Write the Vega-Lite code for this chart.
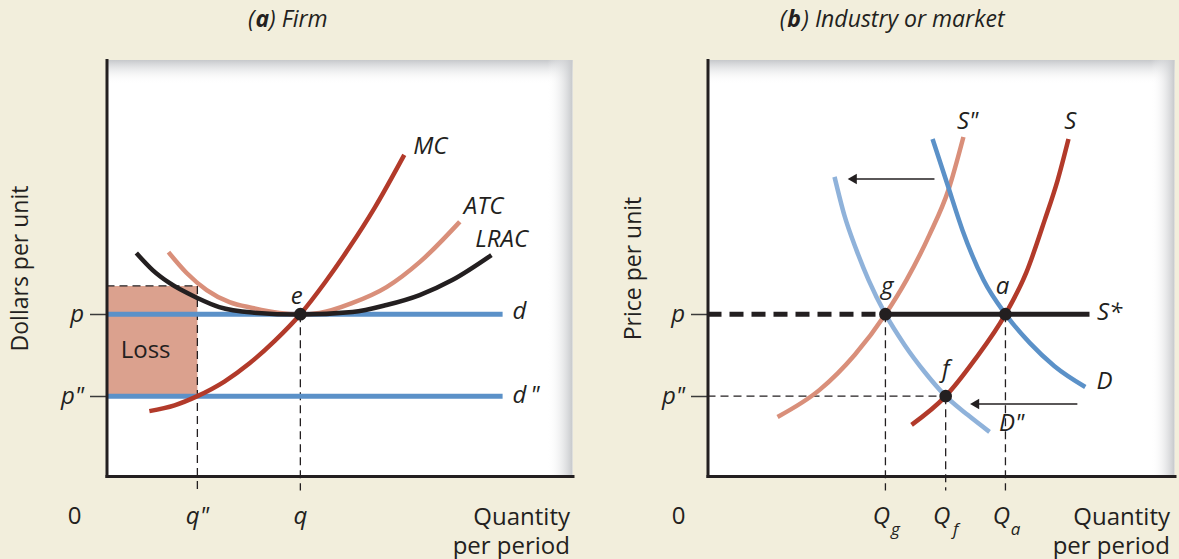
{
  "$schema": "https://vega.github.io/schema/vega-lite/v6.json",
  "background": "#f2eedc",
  "padding": {"left": 9.5, "top": 9, "right": 4, "bottom": 8},
  "autosize": {"type": "pad"},
  "config": {"view": {"stroke": null, "fill": "#ffffff"}, "font": "Open Sans"},
  "spacing": 135,
  "bounds": "flush",
  "resolve": {"scale": {"x": "independent", "y": "independent", "color": "independent"}},
  "datasets": {
    "one": [{}],
    "firmCurves": [
      {"curve": "ATC", "x": 1.33, "y": 5.38}, {"curve": "ATC", "x": 1.72, "y": 4.88}, {"curve": "ATC", "x": 2.15, "y": 4.47},
      {"curve": "ATC", "x": 2.64, "y": 4.18}, {"curve": "ATC", "x": 3.13, "y": 4.04}, {"curve": "ATC", "x": 3.71, "y": 3.92},
      {"curve": "ATC", "x": 4.16, "y": 3.89}, {"curve": "ATC", "x": 4.57, "y": 3.92}, {"curve": "ATC", "x": 5.28, "y": 4.16},
      {"curve": "ATC", "x": 6.01, "y": 4.54}, {"curve": "ATC", "x": 6.72, "y": 5.14}, {"curve": "ATC", "x": 7.58, "y": 6.11},
      {"curve": "LRAC", "x": 0.64, "y": 5.36}, {"curve": "LRAC", "x": 0.99, "y": 4.95}, {"curve": "LRAC", "x": 1.35, "y": 4.64},
      {"curve": "LRAC", "x": 1.95, "y": 4.28}, {"curve": "LRAC", "x": 2.42, "y": 4.06}, {"curve": "LRAC", "x": 3.13, "y": 3.93},
      {"curve": "LRAC", "x": 4.16, "y": 3.88}, {"curve": "LRAC", "x": 5.28, "y": 3.94}, {"curve": "LRAC", "x": 6.01, "y": 4.11},
      {"curve": "LRAC", "x": 6.72, "y": 4.35}, {"curve": "LRAC", "x": 7.42, "y": 4.71}, {"curve": "LRAC", "x": 8.26, "y": 5.31},
      {"curve": "MC", "x": 0.92, "y": 1.56}, {"curve": "MC", "x": 1.46, "y": 1.70}, {"curve": "MC", "x": 1.95, "y": 1.92},
      {"curve": "MC", "x": 2.53, "y": 2.27}, {"curve": "MC", "x": 3.07, "y": 2.71}, {"curve": "MC", "x": 3.61, "y": 3.25},
      {"curve": "MC", "x": 4.16, "y": 3.89}, {"curve": "MC", "x": 4.68, "y": 4.64}, {"curve": "MC", "x": 5.21, "y": 5.49},
      {"curve": "MC", "x": 5.75, "y": 6.44}, {"curve": "MC", "x": 6.39, "y": 7.72}
    ],
    "firmLoss": [{"x": 0, "x2": 1.95, "y": 1.92, "y2": 4.57}],
    "firmGuides": [
      {"x": 0, "y": 4.57, "x2": 1.95, "y2": 4.57},
      {"x": 1.95, "y": 4.57, "x2": 1.95, "y2": -0.35},
      {"x": 4.16, "y": 3.89, "x2": 4.16, "y2": -0.35}
    ],
    "firmDemand": [
      {"line": "d", "x": 0, "x2": 8.5, "y": 3.89},
      {"line": "d\"", "x": 0, "x2": 8.5, "y": 1.92}
    ],
    "firmPoints": [{"point": "e", "x": 4.16, "y": 3.89}],
    "firmLabels": [
      {"label": "MC", "x": 6.95, "y": 7.91},
      {"label": "ATC", "x": 8.09, "y": 6.47},
      {"label": "LRAC", "x": 8.48, "y": 5.67},
      {"label": "e", "x": 4.08, "y": 4.30},
      {"label": "d", "x": 8.86, "y": 3.94},
      {"label": "d\u2009\"", "x": 9.0, "y": 1.92}
    ],
    "firmTicks": [{"label": "q\"", "x": 1.95}, {"label": "q", "x": 4.16}],
    "marketCurves": [
      {"curve": "S\"", "x": 1.50, "y": 1.42}, {"curve": "S\"", "x": 2.40, "y": 2.07}, {"curve": "S\"", "x": 3.15, "y": 2.91},
      {"curve": "S\"", "x": 3.81, "y": 3.89}, {"curve": "S\"", "x": 4.26, "y": 4.71}, {"curve": "S\"", "x": 4.75, "y": 5.79},
      {"curve": "S\"", "x": 5.16, "y": 6.88}, {"curve": "S\"", "x": 5.48, "y": 8.15},
      {"curve": "D\"", "x": 2.72, "y": 7.19}, {"curve": "D\"", "x": 2.93, "y": 6.27}, {"curve": "D\"", "x": 3.19, "y": 5.43},
      {"curve": "D\"", "x": 3.45, "y": 4.71}, {"curve": "D\"", "x": 3.81, "y": 3.89}, {"curve": "D\"", "x": 4.22, "y": 3.15},
      {"curve": "D\"", "x": 4.65, "y": 2.50}, {"curve": "D\"", "x": 5.10, "y": 1.92}, {"curve": "D\"", "x": 5.57, "y": 1.47},
      {"curve": "D\"", "x": 6.04, "y": 1.06},
      {"curve": "D", "x": 4.82, "y": 8.10}, {"curve": "D", "x": 5.14, "y": 7.00}, {"curve": "D", "x": 5.46, "y": 5.91},
      {"curve": "D", "x": 5.91, "y": 4.71}, {"curve": "D", "x": 6.38, "y": 3.89}, {"curve": "D", "x": 6.90, "y": 3.20},
      {"curve": "D", "x": 7.43, "y": 2.64}, {"curve": "D", "x": 8.09, "y": 2.14},
      {"curve": "S", "x": 4.37, "y": 1.23}, {"curve": "S", "x": 5.10, "y": 1.92}, {"curve": "S", "x": 5.72, "y": 2.79},
      {"curve": "S", "x": 6.38, "y": 3.89}, {"curve": "S", "x": 6.83, "y": 4.90}, {"curve": "S", "x": 7.22, "y": 6.15},
      {"curve": "S", "x": 7.50, "y": 7.12}, {"curve": "S", "x": 7.73, "y": 8.10}
    ],
    "marketGuides": [
      {"x": 0, "y": 1.92, "x2": 5.10, "y2": 1.92},
      {"x": 3.81, "y": 3.89, "x2": 3.81, "y2": -0.35},
      {"x": 5.10, "y": 1.92, "x2": 5.10, "y2": -0.35},
      {"x": 6.38, "y": 3.89, "x2": 6.38, "y2": -0.35}
    ],
    "marketLongRunDashed": [{"x": 0, "x2": 3.81, "y": 3.89}],
    "marketLongRunSolid": [{"x": 3.81, "x2": 8.18, "y": 3.89}],
    "marketArrows": [
      {"shift": "demand", "x": 3.10, "x2": 4.86, "y": 7.14},
      {"shift": "supply", "x": 5.72, "x2": 7.92, "y": 1.73}
    ],
    "marketPoints": [
      {"point": "g", "x": 3.81, "y": 3.89},
      {"point": "a", "x": 6.38, "y": 3.89},
      {"point": "f", "x": 5.10, "y": 1.92}
    ],
    "marketLabels": [
      {"label": "S\"", "x": 5.57, "y": 8.51},
      {"label": "S", "x": 7.77, "y": 8.51},
      {"label": "S*", "x": 8.61, "y": 3.92},
      {"label": "D", "x": 8.50, "y": 2.26},
      {"label": "D\"", "x": 6.51, "y": 1.25},
      {"label": "g", "x": 3.85, "y": 4.54},
      {"label": "a", "x": 6.32, "y": 4.54},
      {"label": "f", "x": 5.10, "y": 2.55}
    ],
    "marketTicks": [
      {"label": "Q", "sub": "g", "x": 3.81},
      {"label": "Q", "sub": "f", "x": 5.10},
      {"label": "Q", "sub": "a", "x": 6.38}
    ]
  },
  "hconcat": [
    {
      "width": 466,
      "height": 416,
      "layer": [
        {
          "data": {"name": "firmCurves"},
          "mark": {"type": "line", "strokeWidth": 4.5, "interpolate": "monotone", "opacity": 0},
          "encoding": {
            "x": {
              "field": "x", "type": "quantitative",
              "scale": {"domain": [0, 10], "nice": false, "zero": false},
              "axis": {
                "domain": true, "domainColor": "#231f20", "domainWidth": 3, "domainCap": "square",
                "ticks": false, "labels": false, "grid": false, "zindex": 1,
                "title": ["Quantity", "per period"], "titleFont": "Open Sans", "titleFontSize": 24,
                "titleFontWeight": "normal", "titleColor": "#231f20", "titleAlign": "right",
                "titleX": 463, "titleY": 48, "titleBaseline": "alphabetic", "titleLineHeight": 29
              }
            },
            "y": {
              "field": "y", "type": "quantitative",
              "scale": {"domain": [0, 10], "nice": false, "zero": false},
              "axis": {
                "values": [1.92, 3.89], "labelExpr": "datum.value > 3 ? 'p' : 'p\"'",
                "domain": true, "domainColor": "#231f20", "domainWidth": 3, "domainCap": "square",
                "ticks": true, "tickColor": "#3a3a3a", "tickSize": 17, "tickWidth": 1.5,
                "labelFont": "Open Sans", "labelFontSize": 24, "labelFontStyle": "italic", "labelColor": "#231f20",
                "labelPadding": 6, "labelOverlap": false, "labelFlush": false, "grid": false, "zindex": 1,
                "title": "Dollars per unit", "titleFont": "Open Sans", "titleFontSize": 23, "titleFontWeight": "normal",
                "titleColor": "#231f20", "titleX": -86, "titleY": 208, "titleBaseline": "middle", "titleAlign": "center"
              }
            }
          }
        },
        {
          "data": {"name": "one"},
          "mark": {"type": "rect", "fill": {"gradient": "linear", "x1": 0, "y1": 0, "x2": 0, "y2": 1, "stops": [{"offset": 0, "color": "#c6c8cb"}, {"offset": 1, "color": "rgba(255,255,255,0)"}]}},
          "encoding": {
            "x": {"datum": 0, "type": "quantitative"},
            "x2": {"datum": 10},
            "y": {"datum": 9.42, "type": "quantitative"},
            "y2": {"datum": 10}
          }
        },
        {
          "data": {"name": "one"},
          "mark": {"type": "rect", "fill": {"gradient": "linear", "x1": 0, "y1": 0, "x2": 1, "y2": 0, "stops": [{"offset": 0, "color": "rgba(255,255,255,0)"}, {"offset": 1, "color": "#c6c8cb"}]}},
          "encoding": {
            "x": {"datum": 9.46, "type": "quantitative"},
            "x2": {"datum": 10},
            "y": {"datum": 0, "type": "quantitative"},
            "y2": {"datum": 10}
          }
        },
        {
          "data": {"name": "firmLoss"},
          "mark": {"type": "rect", "fill": "#dba18e"},
          "encoding": {
            "x": {"field": "x", "type": "quantitative"},
            "x2": {"field": "x2"},
            "y": {"field": "y", "type": "quantitative"},
            "y2": {"field": "y2"}
          }
        },
        {
          "data": {"name": "firmGuides"},
          "mark": {"type": "rule", "color": "#231f20", "strokeWidth": 1.3, "strokeDash": [8, 5]},
          "encoding": {
            "x": {"field": "x", "type": "quantitative"},
            "x2": {"field": "x2"},
            "y": {"field": "y", "type": "quantitative"},
            "y2": {"field": "y2"}
          }
        },
        {
          "data": {"name": "firmDemand"},
          "mark": {"type": "rule", "color": "#5b91c8", "strokeWidth": 5},
          "encoding": {
            "x": {"field": "x", "type": "quantitative"},
            "x2": {"field": "x2"},
            "y": {"field": "y", "type": "quantitative"}
          }
        },
        {
          "data": {"name": "firmCurves"},
          "mark": {"type": "line", "strokeWidth": 4.5, "interpolate": "monotone"},
          "encoding": {
            "x": {"field": "x", "type": "quantitative"},
            "y": {"field": "y", "type": "quantitative"},
            "color": {"field": "curve", "type": "nominal", "scale": {"domain": ["ATC", "LRAC", "MC"], "range": ["#d98f7a", "#231f20", "#b23a2a"]}, "legend": null}
          }
        },
        {
          "data": {"name": "firmPoints"},
          "mark": {"type": "circle", "size": 160, "color": "#231f20", "opacity": 1},
          "encoding": {
            "x": {"field": "x", "type": "quantitative"},
            "y": {"field": "y", "type": "quantitative"}
          }
        },
        {
          "data": {"name": "firmLabels"},
          "mark": {"type": "text", "font": "Open Sans", "fontSize": 24, "fontStyle": "italic", "color": "#231f20", "align": "center", "baseline": "middle"},
          "encoding": {
            "x": {"field": "x", "type": "quantitative"},
            "y": {"field": "y", "type": "quantitative"},
            "text": {"field": "label"}
          }
        },
        {
          "data": {"name": "one"},
          "mark": {"type": "text", "font": "Open Sans", "fontSize": 24, "color": "#231f20", "align": "center", "baseline": "middle"},
          "encoding": {
            "x": {"datum": 0.84, "type": "quantitative"},
            "y": {"datum": 3.0, "type": "quantitative"},
            "text": {"value": "Loss"}
          }
        },
        {
          "data": {"name": "firmTicks"},
          "mark": {"type": "text", "font": "Open Sans", "fontSize": 24, "fontStyle": "italic", "color": "#231f20", "align": "center", "baseline": "middle"},
          "encoding": {
            "x": {"field": "x", "type": "quantitative"},
            "y": {"datum": -0.99, "type": "quantitative"},
            "text": {"field": "label"}
          }
        },
        {
          "data": {"name": "one"},
          "mark": {"type": "text", "font": "Open Sans", "fontSize": 24, "color": "#231f20", "align": "center", "baseline": "middle", "dx": -32},
          "encoding": {
            "x": {"datum": 0, "type": "quantitative"},
            "y": {"datum": -0.99, "type": "quantitative"},
            "text": {"value": "0"}
          }
        },
        {
          "data": {"name": "one"},
          "mark": {"type": "text", "font": "Open Sans", "fontSize": 23, "fontStyle": "italic", "color": "#231f20", "align": "right", "baseline": "alphabetic", "dx": -1},
          "encoding": {
            "x": {"datum": 3.2, "type": "quantitative"},
            "y": {"datum": 10.79, "type": "quantitative"},
            "text": {"value": "("}
          }
        },
        {
          "data": {"name": "one"},
          "mark": {"type": "text", "font": "Open Sans", "fontSize": 23, "fontStyle": "italic", "fontWeight": "bold", "color": "#231f20", "align": "left", "baseline": "alphabetic"},
          "encoding": {
            "x": {"datum": 3.2, "type": "quantitative"},
            "y": {"datum": 10.79, "type": "quantitative"},
            "text": {"value": "a"}
          }
        },
        {
          "data": {"name": "one"},
          "mark": {"type": "text", "font": "Open Sans", "fontSize": 23, "fontStyle": "italic", "color": "#231f20", "align": "left", "baseline": "alphabetic", "dx": 13.5},
          "encoding": {
            "x": {"datum": 3.2, "type": "quantitative"},
            "y": {"datum": 10.79, "type": "quantitative"},
            "text": {"value": ") Firm"}
          }
        }
      ]
    },
    {
      "width": 467,
      "height": 416,
      "layer": [
        {
          "data": {"name": "marketCurves"},
          "mark": {"type": "line", "strokeWidth": 4.5, "interpolate": "monotone", "opacity": 0},
          "encoding": {
            "x": {
              "field": "x", "type": "quantitative",
              "scale": {"domain": [0, 10], "nice": false, "zero": false},
              "axis": {
                "domain": true, "domainColor": "#231f20", "domainWidth": 3, "domainCap": "square",
                "ticks": false, "labels": false, "grid": false, "zindex": 1,
                "title": ["Quantity", "per period"], "titleFont": "Open Sans", "titleFontSize": 24,
                "titleFontWeight": "normal", "titleColor": "#231f20", "titleAlign": "right",
                "titleX": 462, "titleY": 48, "titleBaseline": "alphabetic", "titleLineHeight": 29
              }
            },
            "y": {
              "field": "y", "type": "quantitative",
              "scale": {"domain": [0, 10], "nice": false, "zero": false},
              "axis": {
                "values": [1.92, 3.89], "labelExpr": "datum.value > 3 ? 'p' : 'p\"'",
                "domain": true, "domainColor": "#231f20", "domainWidth": 3, "domainCap": "square",
                "ticks": true, "tickColor": "#3a3a3a", "tickSize": 17, "tickWidth": 1.5,
                "labelFont": "Open Sans", "labelFontSize": 24, "labelFontStyle": "italic", "labelColor": "#231f20",
                "labelPadding": 6, "labelOverlap": false, "labelFlush": false, "grid": false, "zindex": 1,
                "title": "Price per unit", "titleFont": "Open Sans", "titleFontSize": 23, "titleFontWeight": "normal",
                "titleColor": "#231f20", "titleX": -74, "titleY": 208, "titleBaseline": "middle", "titleAlign": "center"
              }
            }
          }
        },
        {
          "data": {"name": "one"},
          "mark": {"type": "rect", "fill": {"gradient": "linear", "x1": 0, "y1": 0, "x2": 0, "y2": 1, "stops": [{"offset": 0, "color": "#c6c8cb"}, {"offset": 1, "color": "rgba(255,255,255,0)"}]}},
          "encoding": {
            "x": {"datum": 0, "type": "quantitative"},
            "x2": {"datum": 10},
            "y": {"datum": 9.42, "type": "quantitative"},
            "y2": {"datum": 10}
          }
        },
        {
          "data": {"name": "one"},
          "mark": {"type": "rect", "fill": {"gradient": "linear", "x1": 0, "y1": 0, "x2": 1, "y2": 0, "stops": [{"offset": 0, "color": "rgba(255,255,255,0)"}, {"offset": 1, "color": "#c6c8cb"}]}},
          "encoding": {
            "x": {"datum": 9.5, "type": "quantitative"},
            "x2": {"datum": 10},
            "y": {"datum": 0, "type": "quantitative"},
            "y2": {"datum": 10}
          }
        },
        {
          "data": {"name": "marketGuides"},
          "mark": {"type": "rule", "color": "#231f20", "strokeWidth": 1.3, "strokeDash": [8, 5]},
          "encoding": {
            "x": {"field": "x", "type": "quantitative"},
            "x2": {"field": "x2"},
            "y": {"field": "y", "type": "quantitative"},
            "y2": {"field": "y2"}
          }
        },
        {
          "data": {"name": "marketLongRunDashed"},
          "mark": {"type": "rule", "color": "#231f20", "strokeWidth": 5, "strokeDash": [14, 8]},
          "encoding": {
            "x": {"field": "x", "type": "quantitative"},
            "x2": {"field": "x2"},
            "y": {"field": "y", "type": "quantitative"}
          }
        },
        {
          "data": {"name": "marketLongRunSolid"},
          "mark": {"type": "rule", "color": "#231f20", "strokeWidth": 5},
          "encoding": {
            "x": {"field": "x", "type": "quantitative"},
            "x2": {"field": "x2"},
            "y": {"field": "y", "type": "quantitative"}
          }
        },
        {
          "data": {"name": "marketCurves"},
          "mark": {"type": "line", "strokeWidth": 4.5, "interpolate": "monotone"},
          "encoding": {
            "x": {"field": "x", "type": "quantitative"},
            "y": {"field": "y", "type": "quantitative"},
            "color": {"field": "curve", "type": "nominal", "scale": {"domain": ["S\"", "D\"", "D", "S"], "range": ["#d98f7a", "#8fb2da", "#5b91c8", "#b23a2a"]}, "legend": null}
          }
        },
        {
          "data": {"name": "marketArrows"},
          "mark": {"type": "rule", "color": "#231f20", "strokeWidth": 1.4},
          "encoding": {
            "x": {"field": "x", "type": "quantitative"},
            "x2": {"field": "x2"},
            "y": {"field": "y", "type": "quantitative"}
          }
        },
        {
          "data": {"name": "marketArrows"},
          "mark": {"type": "point", "shape": "triangle-left", "size": 110, "filled": true, "color": "#231f20", "opacity": 1},
          "encoding": {
            "x": {"field": "x", "type": "quantitative"},
            "y": {"field": "y", "type": "quantitative"}
          }
        },
        {
          "data": {"name": "marketPoints"},
          "mark": {"type": "circle", "size": 160, "color": "#231f20", "opacity": 1},
          "encoding": {
            "x": {"field": "x", "type": "quantitative"},
            "y": {"field": "y", "type": "quantitative"}
          }
        },
        {
          "data": {"name": "marketLabels"},
          "mark": {"type": "text", "font": "Open Sans", "fontSize": 24, "fontStyle": "italic", "color": "#231f20", "align": "center", "baseline": "middle"},
          "encoding": {
            "x": {"field": "x", "type": "quantitative"},
            "y": {"field": "y", "type": "quantitative"},
            "text": {"field": "label"}
          }
        },
        {
          "data": {"name": "marketTicks"},
          "mark": {"type": "text", "font": "Open Sans", "fontSize": 24, "fontStyle": "italic", "color": "#231f20", "align": "center", "baseline": "middle", "dx": -4},
          "encoding": {
            "x": {"field": "x", "type": "quantitative"},
            "y": {"datum": -0.99, "type": "quantitative"},
            "text": {"field": "label"}
          }
        },
        {
          "data": {"name": "marketTicks"},
          "mark": {"type": "text", "font": "Open Sans", "fontSize": 17, "fontStyle": "italic", "color": "#231f20", "align": "center", "baseline": "middle", "dx": 10, "dy": 13},
          "encoding": {
            "x": {"field": "x", "type": "quantitative"},
            "y": {"datum": -0.99, "type": "quantitative"},
            "text": {"field": "sub"}
          }
        },
        {
          "data": {"name": "one"},
          "mark": {"type": "text", "font": "Open Sans", "fontSize": 24, "color": "#231f20", "align": "center", "baseline": "middle", "dx": -29},
          "encoding": {
            "x": {"datum": 0, "type": "quantitative"},
            "y": {"datum": -0.99, "type": "quantitative"},
            "text": {"value": "0"}
          }
        },
        {
          "data": {"name": "one"},
          "mark": {"type": "text", "font": "Open Sans", "fontSize": 23, "fontStyle": "italic", "color": "#231f20", "align": "right", "baseline": "alphabetic", "dx": -1},
          "encoding": {
            "x": {"datum": 1.71, "type": "quantitative"},
            "y": {"datum": 10.79, "type": "quantitative"},
            "text": {"value": "("}
          }
        },
        {
          "data": {"name": "one"},
          "mark": {"type": "text", "font": "Open Sans", "fontSize": 23, "fontStyle": "italic", "fontWeight": "bold", "color": "#231f20", "align": "left", "baseline": "alphabetic"},
          "encoding": {
            "x": {"datum": 1.71, "type": "quantitative"},
            "y": {"datum": 10.79, "type": "quantitative"},
            "text": {"value": "b"}
          }
        },
        {
          "data": {"name": "one"},
          "mark": {"type": "text", "font": "Open Sans", "fontSize": 23, "fontStyle": "italic", "color": "#231f20", "align": "left", "baseline": "alphabetic", "dx": 15},
          "encoding": {
            "x": {"datum": 1.71, "type": "quantitative"},
            "y": {"datum": 10.79, "type": "quantitative"},
            "text": {"value": ") Industry or market"}
          }
        }
      ]
    }
  ]
}
